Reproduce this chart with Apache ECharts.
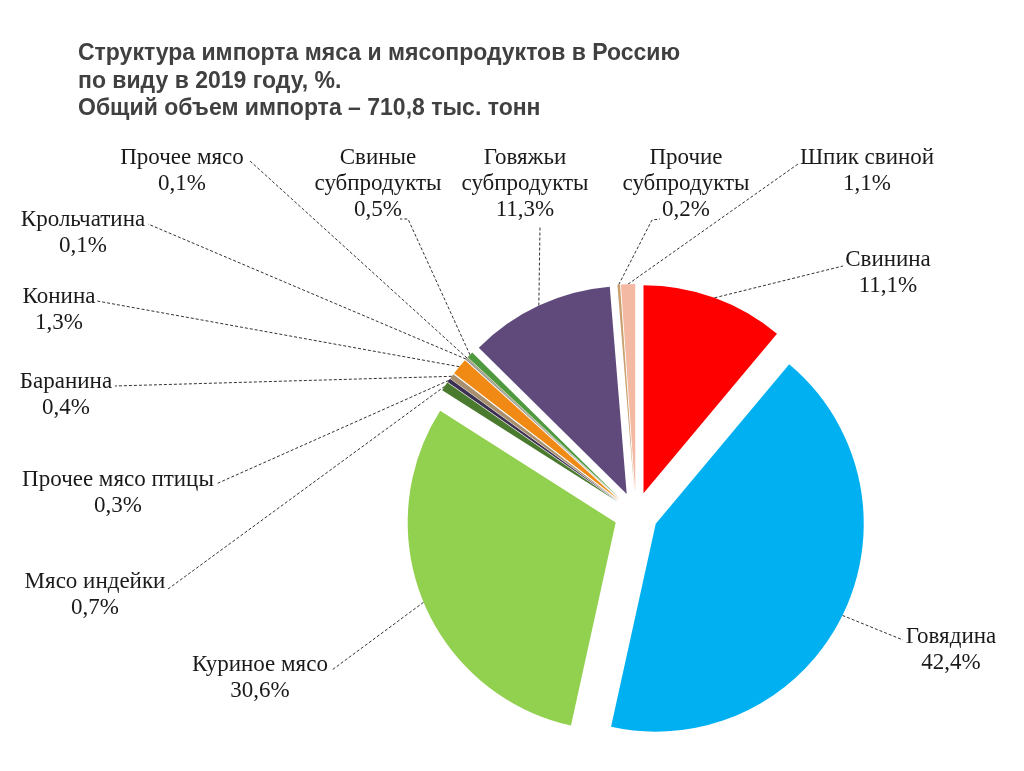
<!DOCTYPE html>
<html>
<head>
<meta charset="utf-8">
<script src="https://cdn.jsdelivr.net/npm/echarts@6/dist/echarts.min.js"></script>
<style>
html,body{margin:0;padding:0;background:#fff;}
#chart{width:1024px;height:771px;}
</style>
</head>
<body>
<div id="chart"></div>
<script>
// ---- data ----
const categories = ['Свинина', 'Говядина', 'Куриное мясо', 'Мясо индейки', 'Прочее мясо птицы', 'Баранина', 'Конина', 'Крольчатина', 'Прочее мясо', 'Свиные субпродукты', 'Говяжьи субпродукты', 'Прочие субпродукты', 'Шпик свиной'];
const labelNames = ['Свинина', 'Говядина', 'Куриное мясо', 'Мясо индейки', 'Прочее мясо птицы', 'Баранина', 'Конина', 'Крольчатина', 'Прочее мясо', 'Свиные\nсубпродукты', 'Говяжьи\nсубпродукты', 'Прочие\nсубпродукты', 'Шпик свиной'];
const values = [11.1, 42.4, 30.6, 0.7, 0.3, 0.4, 1.3, 0.1, 0.1, 0.5, 11.3, 0.2, 1.1];
const titleLines = ['Структура импорта мяса и мясопродуктов в Россию', 'по виду в 2019 году, %.', 'Общий объем импорта – 710,8 тыс. тонн'];

// ---- styles / layout ----
const colors = ['#FF0000', '#00B0F0', '#92D050', '#4A7A2E', '#3B2F52', '#A8906E', '#F08A14', '#8C8C8C', '#9AA37A', '#4F9A3E', '#5F4A7B', '#C9A06E', '#F4B9A2'];
const PIE_CENTER = [636, 514];
const PIE_R = 208;
const EXPLODE = 22;
// label centre positions and leader-line anchor points (px)
const labelCenter = [[888, 273], [951, 650], [260, 678], [95, 595], [118, 493], [66, 395], [59, 310], [83, 233], [182, 171], [378, 184], [525, 184], [686, 184], [867, 171]];
const labelAnchor = [
  [[843, 266]],
  [[903, 640]],
  [[332, 670]],
  [[168, 589]],
  [[216, 484]],
  [[115, 386]],
  [[97, 301]],
  [[148, 224]],
  [[250, 161]],
  [[408, 219], [400, 219]],
  [[540, 226]],
  [[652, 220], [660, 219]],
  [[798, 164]]
];

const chart = echarts.init(document.getElementById('chart'), null, {renderer: 'canvas'});

const sliceData = categories.map((c, i) => ({
  name: c,
  value: values[i],
  selected: true,
  itemStyle: {color: colors[i]}
}));
const labelData = categories.map((c, i) => ({
  name: c,
  value: values[i]
}));

chart.setOption({
  animation: false,
  backgroundColor: '#ffffff',
  title: {
    text: titleLines.join('\n'),
    left: 73,
    top: 35,
    textStyle: {
      fontFamily: 'Arial, "Liberation Sans", sans-serif',
      fontWeight: 'bold',
      fontSize: 23,
      lineHeight: 27.5,
      color: '#404040'
    }
  },
  series: [{
    // exploded slices
    type: 'pie',
    center: PIE_CENTER,
    radius: [0, PIE_R],
    startAngle: 90,
    clockwise: true,
    selectedMode: 'multiple',
    selectedOffset: EXPLODE,
    emphasis: {disabled: true},
    itemStyle: {borderWidth: 0},
    label: {show: false},
    labelLine: {show: false},
    data: sliceData
  }, {
    // labels and leader lines (transparent sectors reaching the exploded rim)
    type: 'pie',
    center: PIE_CENTER,
    radius: [0, PIE_R + EXPLODE],
    startAngle: 90,
    clockwise: true,
    silent: true,
    avoidLabelOverlap: false,
    emphasis: {disabled: true},
    itemStyle: {color: 'rgba(0,0,0,0)', borderWidth: 0},
    data: labelData,
    label: {
      show: true,
      position: 'outside',
      fontFamily: '"Times New Roman", "Liberation Serif", serif',
      fontSize: 23,
      lineHeight: 26,
      color: '#1a1a1a',
      align: 'center',
      formatter: p => labelNames[p.dataIndex] + '\n' + p.value.toFixed(1).replace('.', ',') + '%'
    },
    labelLine: {
      show: true,
      length: 10,
      length2: 10,
      lineStyle: {color: '#333333', width: 1, type: [3, 2]}
    },
    labelLayout: function (params) {
      const i = params.dataIndex;
      const p0 = params.labelLinePoints ? params.labelLinePoints[0] : null;
      const pts = p0 ? [p0].concat(labelAnchor[i]) : undefined;
      return {
        x: labelCenter[i][0],
        y: labelCenter[i][1],
        align: 'center',
        verticalAlign: 'middle',
        labelLinePoints: pts
      };
    }
  }]
});
</script>
</body>
</html>
